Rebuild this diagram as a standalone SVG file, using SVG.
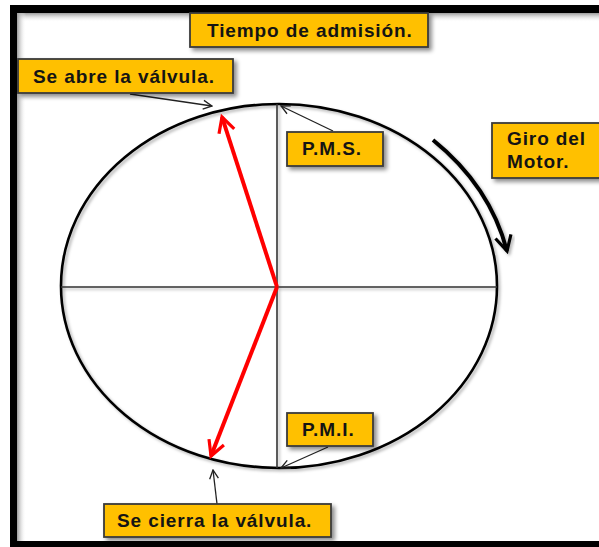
<svg xmlns="http://www.w3.org/2000/svg" width="599" height="547" viewBox="0 0 599 547">
<defs>
<style>
.box{fill:#FFC000;stroke:#3a3a3a;stroke-width:1.8;filter:url(#sh)}
.lbl{font-family:"Liberation Sans",Arial,sans-serif;font-weight:bold;font-size:19px;letter-spacing:0.9px;fill:#141414}
.thin{stroke:#222;stroke-width:1.3;fill:none}
.red{stroke:#FF0000;stroke-width:4;fill:none;marker-end:url(#rh)}
</style>
<filter id="sh" x="-10%" y="-20%" width="130%" height="160%">
<feDropShadow dx="3" dy="3" stdDeviation="2" flood-color="#000" flood-opacity="0.45"/>
</filter>
<filter id="ls" x="-5%" y="-5%" width="115%" height="115%">
<feDropShadow dx="2" dy="2" stdDeviation="1.5" flood-color="#000" flood-opacity="0.3"/>
</filter>
<marker id="ah" viewBox="0 0 10 10" refX="9" refY="5" markerWidth="11" markerHeight="11" markerUnits="userSpaceOnUse" orient="auto">
<path d="M1,1 L9,5 L1,9" fill="none" stroke="#222" stroke-width="1.2"/>
</marker>
<marker id="rh" viewBox="0 0 10 10" refX="8.5" refY="5" markerWidth="5" markerHeight="5" orient="auto">
<path d="M1,1 L8.5,5 L1,9" fill="none" stroke="#FF0000" stroke-width="1.6"/>
</marker>
<marker id="bh" viewBox="0 0 10 10" refX="8.5" refY="5" markerWidth="5" markerHeight="5" orient="auto">
<path d="M1,1 L8.5,5 L1,9" fill="none" stroke="#000" stroke-width="1.6"/>
</marker>
<linearGradient id="gt" x1="0" y1="0" x2="0" y2="1">
<stop offset="0" stop-color="#9a9a9a"/><stop offset="1" stop-color="#fff" stop-opacity="0"/>
</linearGradient>
<linearGradient id="gl" x1="0" y1="0" x2="1" y2="0">
<stop offset="0" stop-color="#9a9a9a"/><stop offset="1" stop-color="#fff" stop-opacity="0"/>
</linearGradient>
</defs>
<rect width="599" height="547" fill="#fff"/>
<g id="frame">
<rect x="17" y="13" width="582" height="9" fill="url(#gt)"/>
<rect x="17" y="13" width="9" height="528" fill="url(#gl)"/>
<rect x="10" y="5" width="589" height="8" fill="#000"/>
<rect x="10" y="5" width="7" height="542" fill="#000"/>
<rect x="10" y="541" width="589" height="6" fill="#000"/>
</g>
<g id="circle" filter="url(#ls)">
<ellipse cx="279" cy="286" rx="218" ry="182" fill="none" stroke="#000" stroke-width="2.6"/>
<line x1="61" y1="287" x2="497" y2="287" stroke="#333" stroke-width="1.6"/>
<line x1="277" y1="104" x2="277" y2="468" stroke="#333" stroke-width="1.6"/>
</g>
<g id="connectors">
<line class="red" x1="277" y1="287" x2="222" y2="117"/>
<line class="red" x1="277" y1="287" x2="211" y2="456"/>
<line class="thin" x1="130" y1="94" x2="212" y2="106" marker-end="url(#ah)"/>
<line class="thin" x1="333" y1="131" x2="281" y2="106" marker-end="url(#ah)"/>
<line class="thin" x1="328" y1="447" x2="281" y2="468" marker-end="url(#ah)"/>
<line class="thin" x1="217" y1="504" x2="213" y2="470" marker-end="url(#ah)"/>
<path d="M433,140 Q490,186 507,251" fill="none" stroke="#000" stroke-width="4" marker-end="url(#bh)" filter="url(#ls)"/>
</g>
<g id="n-title">
<rect class="box" x="190" y="13" width="238" height="34"/>
<text class="lbl" x="207" y="37">Tiempo de admisión.</text>
</g>
<g id="n-abre">
<rect class="box" x="18" y="59" width="215" height="34"/>
<text class="lbl" x="33" y="83">Se abre la válvula.</text>
</g>
<g id="n-pms">
<rect class="box" x="287" y="132" width="96" height="34"/>
<text class="lbl" x="302" y="155">P.M.S.</text>
</g>
<g id="n-giro">
<rect class="box" x="492" y="123" width="110" height="55"/>
<text class="lbl" x="507" y="145">Giro del</text>
<text class="lbl" x="507" y="168">Motor.</text>
</g>
<g id="n-pmi">
<rect class="box" x="287" y="413" width="86" height="33"/>
<text class="lbl" x="302" y="436">P.M.I.</text>
</g>
<g id="n-cierra">
<rect class="box" x="104" y="504" width="227" height="33"/>
<text class="lbl" x="117" y="527">Se cierra la válvula.</text>
</g>
</svg>
